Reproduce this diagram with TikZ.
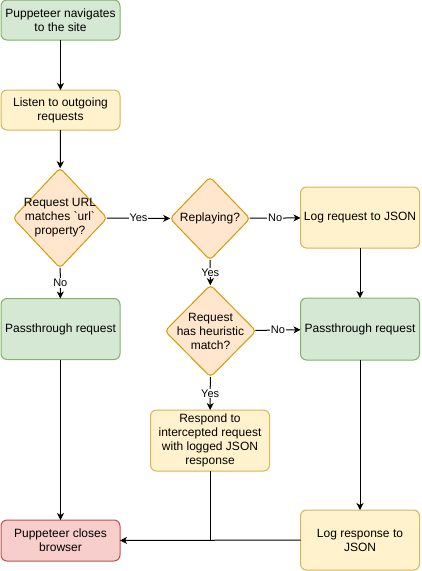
\documentclass[tikz,border=0pt]{standalone}
\usepackage{fontspec}
\newfontfamily\hv{Liberation Sans}
\usetikzlibrary{shapes.geometric,arrows.meta}
\definecolor{gfill}{HTML}{D5E8D4}\definecolor{gline}{HTML}{82B366}
\definecolor{yfill}{HTML}{FFF2CC}\definecolor{yline}{HTML}{D6B656}
\definecolor{ofill}{HTML}{FFE6CC}\definecolor{oline}{HTML}{D79B00}
\definecolor{rfill}{HTML}{F8CECC}\definecolor{rline}{HTML}{B85450}
\tikzset{
  box/.style={draw, rounded corners=6pt, line width=1pt, minimum width=119pt, inner sep=0pt, outer sep=0pt, align=center, font=\hv\fontsize{12}{14}\selectfont},
  greenbox/.style={box, fill=gfill, draw=gline},
  yellowbox/.style={box, fill=yfill, draw=yline},
  redbox/.style={box, fill=rfill, draw=rline},
  dia/.style={diamond, draw=oline, fill=ofill, line width=1pt, inner sep=0pt, outer sep=0pt, rounded corners=4pt},
  dtext/.style={align=center, font=\hv\fontsize{12}{14}\selectfont, inner sep=0pt},
  edge/.style={line width=1pt, -{Stealth[length=7pt,width=7pt,inset=2pt]}},
  plain/.style={line width=1pt},
  elbl/.style={fill=white, inner sep=1pt, font=\hv\fontsize{11}{13}\selectfont},
}
\begin{document}
\begin{tikzpicture}[x=1pt,y=-1pt]
\useasboundingbox (0,0) rectangle (421,571);
\node[greenbox, minimum height=40pt] (start) at (60.5,20) {Puppeteer navigates\\to the site};
\node[yellowbox, minimum height=40pt] (listen) at (60.5,110) {Listen to outgoing\\requests};
\node[dia, minimum width=94pt, minimum height=100pt, label={[dtext]center:Request URL\\matches `url`\\property?}] (match) at (60,218) {};
\node[dia, minimum width=80pt, minimum height=83pt, label={[dtext]center:Replaying?}] (replay) at (210,218.5) {};
\node[yellowbox, minimum height=61pt] (logreq) at (360,217.5) {Log request to JSON};
\node[greenbox, minimum height=61pt] (passL) at (60.5,329) {Passthrough request};
\node[dia, minimum width=91pt, minimum height=92pt, label={[dtext]center:Request\\has heuristic\\match?}] (heur) at (210.5,331) {};
\node[greenbox, minimum height=62pt] (passR) at (360,329) {Passthrough request};
\node[yellowbox, minimum height=61pt] (respond) at (210,440.5) {Respond to\\intercepted request\\with logged JSON\\response};
\node[redbox, minimum height=41pt] (close) at (60.5,540.5) {Puppeteer closes\\browser};
\node[yellowbox, minimum height=60pt] (logres) at (360,540) {Log response to\\JSON};

\draw[edge] (start) -- (listen);
\draw[edge] (listen) -- (match);
\draw[edge] (match) -- node[elbl] {Yes} (replay);
\draw[edge] (replay) -- node[elbl] {No} (logreq);
\draw[edge] (match) -- node[elbl] {No} (passL);
\draw[edge] (replay) -- node[elbl] {Yes} (heur);
\draw[edge] (heur) -- node[elbl] {No} (passR);
\draw[edge] (logreq) -- (passR);
\draw[edge] (heur) -- node[elbl] {Yes} (respond);
\draw[edge] (passL) -- (close);
\draw[edge] (passR) -- (logres);
\draw[edge] (logres) -- (close);
\draw[plain] (respond.south) -- (respond.south |- close.east);
\end{tikzpicture}
\end{document}
